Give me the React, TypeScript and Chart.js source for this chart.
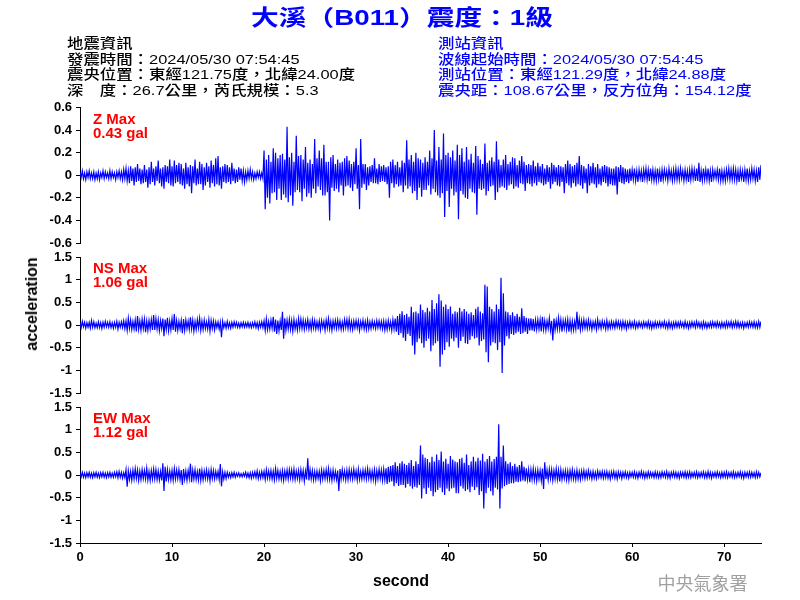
import { useEffect, useRef } from "react";
import { Chart, registerables } from "chart.js";

Chart.register(...registerables);

// ---------- data ----------
const titleText = "大溪（B011）震度：1級";
const quakeInfo = [
  "地震資訊",
  "發震時間：2024/05/30 07:54:45",
  "震央位置：東經121.75度，北緯24.00度",
  "深　度：26.7公里，芮氏規模：5.3",
];
const stationInfo = [
  "測站資訊",
  "波線起始時間：2024/05/30 07:54:45",
  "測站位置：東經121.29度，北緯24.88度",
  "震央距：108.67公里，反方位角：154.12度",
];
const agencyText = "中央氣象署";
const xAxisTitle = "second";
const yAxisTitle = "acceleration";

const SAMPLE_INTERVAL = 0.125; // seconds between samples below
const X_MAX = 74;
const xTicks = [0, 10, 20, 30, 40, 50, 60, 70];
const zTicks = [-0.6, -0.4, -0.2, 0, 0.2, 0.4, 0.6];
const hTicks = [-1.5, -1, -0.5, 0, 0.5, 1, 1.5];

const componentNames = ["Z Max", "NS Max", "EW Max"];
const peakLabels = ["0.43 gal", "1.06 gal", "1.12 gal"];

// acceleration samples in centi-gal (0.01 gal), 8 per second (one row = one second)
const zTrace = [
  3, -2, 4, -3, 2, -4, 3, -2,
  4, -3, 2, -3, 3, -4, 2, -3,
  3, -4, 2, -2, 4, -3, 3, -2,
  2, -3, 4, -3, 3, -2, 2, -4,
  3, -2, 4, -3, 3, -4, 5, -3,
  6, -5, 4, -7, 8, -5, 6, -9,
  7, -6, 10, -5, 6, -8, 5, -7,
  9, -6, 5, -11, 7, -8, 12, -6,
  6, -9, 8, -5, 13, -7, 6, -10,
  7, -12, 9, -6, 8, -7, 14, -9,
  8, -10, 13, -7, 9, -6, 11, -8,
  10, -9, 6, -12, 11, -8, 7, -10,
  9, -16, 8, -7, 14, -9, 6, -8,
  12, -8, 10, -13, 7, -9, 11, -6,
  8, -11, 13, -7, 9, -10, 15, -8,
  17, -9, 7, -12, 8, -6, 10, -7,
  9, -6, 7, -8, 11, -5, 6, -7,
  5, -6, 7, -4, 6, -5, 4, -6,
  3, -4, 4, -3, 5, -3, 3, -4,
  2, -3, 3, -2, 3, -3, 2, -3,
  22, -30, 14, -20, 18, -25, 12, -16,
  24, -15, 20, -22, 15, -12, 18, -22,
  19, -17, 14, -20, 43, -24, 16, -18,
  20, -27, 12, -15, 35, -13, 17, -15,
  18, -23, 14, -12, 25, -19, 11, -16,
  14, -20, 10, -12, 32, -16, 15, -10,
  22, -13, 15, -18, 27, -18, 12, -15,
  12, -40, 16, -11, 18, -14, 10, -12,
  14, -15, 11, -9, 12, -18, 15, -10,
  17, -9, 13, -11, 10, -14, 12, -8,
  24, -12, 9, -30, 32, -11, 10, -8,
  10, -13, 7, -9, 8, -6, 9, -7,
  15, -7, 6, -8, 10, -6, 8, -5,
  9, -6, 7, -8, 8, -20, 12, -7,
  14, -11, 9, -8, 12, -10, 7, -9,
  13, -15, 11, -9, 31, -12, 14, -10,
  18, -16, 12, -14, 20, -22, 15, -11,
  14, -19, 11, -13, 16, -13, 12, -9,
  22, -17, 15, -12, 40, -15, 13, -18,
  25, -20, 14, -16, 37, -37, 18, -14,
  20, -28, 16, -12, 22, -18, 13, -15,
  27, -39, 18, -14, 24, -17, 12, -20,
  25, -21, 14, -12, 19, -15, 11, -16,
  26, -35, 17, -12, 14, -13, 10, -12,
  28, -18, 11, -14, 13, -10, 16, -9,
  12, -22, 30, -15, 14, -11, 9, -10,
  14, -11, 18, -13, 10, -9, 12, -8,
  16, -12, 15, -10, 9, -11, 13, -7,
  17, -8, 12, -14, 9, -7, 10, -8,
  9, -10, 13, -7, 8, -9, 11, -6,
  8, -7, 10, -9, 6, -8, 9, -6,
  7, -12, 11, -8, 9, -6, 7, -9,
  9, -10, 8, -6, 7, -16, 10, -7,
  13, -9, 10, -11, 8, -7, 9, -10,
  11, -8, 17, -9, 9, -12, 8, -7,
  6, -16, 10, -9, 8, -7, 11, -8,
  7, -11, 10, -8, 6, -9, 8, -6,
  9, -7, 8, -10, 7, -8, 6, -9,
  6, -9, 8, -17, 7, -6, 9, -7,
  7, -8, 6, -6, 5, -7, 6, -5,
  5, -4, 6, -5, 4, -6, 5, -3,
  4, -6, 5, -3, 6, -4, 5, -5,
  6, -4, 5, -5, 4, -5, 6, -4,
  4, -6, 5, -4, 5, -3, 4, -5,
  6, -3, 4, -5, 5, -4, 6, -4,
  5, -4, 6, -3, 4, -5, 5, -4,
  4, -6, 5, -4, 6, -3, 5, -5,
  6, -5, 11, -6, 4, -5, 6, -4,
  5, -4, 6, -5, 4, -6, 5, -3,
  4, -3, 5, -4, 6, -5, 4, -5,
  4, -5, 5, -3, 6, -4, 5, -4,
  6, -4, 5, -5, 4, -6, 5, -3,
  4, -6, 5, -4, 6, -5, 4, -4,
  6, -3, 5, -5, 4, -6, 7, -4,
  9,
];

const nsTrace = [
  5, -6, 8, -4, 6, -7, 5, -5,
  6, -7, 10, -5, 7, -6, 4, -6,
  7, -6, 5, -8, 6, -5, 8, -4,
  6, -5, 7, -6, 5, -7, 6, -5,
  8, -9, 6, -5, 7, -6, 9, -8,
  9, -12, 15, -8, 11, -10, 8, -9,
  11, -14, 20, -10, 9, -12, 13, -8,
  13, -16, 9, -12, 10, -9, 12, -11,
  22, -11, 14, -9, 12, -13, 10, -8,
  14, -25, 12, -10, 16, -13, 9, -11,
  14, -11, 24, -15, 10, -12, 8, -9,
  10, -18, 13, -12, 11, -8, 9, -10,
  17, -9, 11, -14, 8, -10, 12, -7,
  15, -12, 9, -10, 11, -8, 7, -9,
  12, -14, 10, -8, 9, -11, 7, -6,
  7, -9, 6, -27, 8, -6, 5, -7,
  8, -6, 5, -7, 6, -5, 7, -4,
  6, -5, 4, -6, 5, -4, 6, -5,
  5, -4, 6, -5, 4, -6, 5, -4,
  7, -6, 5, -8, 6, -5, 7, -6,
  9, -12, 14, -10, 8, -9, 11, -7,
  18, -15, 12, -20, 10, -13, 9, -11,
  29, -30, 15, -12, 11, -9, 13, -10,
  10, -14, 12, -9, 8, -11, 14, -8,
  13, -8, 11, -10, 9, -7, 12, -9,
  8, -10, 12, -7, 10, -9, 7, -8,
  9, -11, 10, -6, 8, -12, 11, -7,
  14, -9, 8, -12, 9, -7, 10, -8,
  11, -7, 9, -10, 7, -9, 12, -6,
  12, -8, 13, -9, 8, -10, 9, -7,
  10, -7, 9, -12, 8, -6, 11, -9,
  8, -10, 11, -9, 7, -8, 9, -6,
  7, -8, 10, -6, 9, -7, 8, -9,
  9, -11, 8, -10, 10, -8, 7, -12,
  12, -9, 14, -15, 20, -22, 25, -18,
  30, -28, 22, -35, 25, -20, 18, -24,
  40, -45, 28, -65, 30, -38, 26, -30,
  45, -40, 33, -50, 28, -35, 38, -30,
  30, -58, 55, -45, 35, -40, 48, -36,
  68, -92, 54, -65, 40, -55, 45, -38,
  35, -48, 41, -30, 25, -36, 30, -28,
  28, -50, 38, -35, 30, -26, 35, -40,
  30, -42, 25, -33, 28, -25, 22, -30,
  36, -28, 40, -45, 30, -35, 26, -32,
  89, -60, 85, -82, 40, -45, 35, -38,
  30, -40, 45, -55, 35, -38, 104, -106,
  70, -45, 30, -25, 28, -30, 22, -20,
  28, -22, 20, -18, 25, -15, 18, -20,
  37, -18, 20, -15, 16, -20, 14, -12,
  15, -12, 13, -14, 11, -10, 12, -9,
  12, -14, 18, -10, 10, -12, 9, -8,
  15, -12, 9, -34, 14, -11, 10, -9,
  16, -9, 12, -15, 10, -8, 11, -10,
  12, -15, 10, -12, 9, -11, 8, -9,
  29, -10, 13, -11, 10, -8, 12, -7,
  9, -8, 11, -7, 8, -10, 7, -6,
  8, -10, 12, -6, 7, -8, 9, -5,
  7, -9, 10, -8, 6, -7, 8, -6,
  6, -7, 9, -5, 8, -6, 7, -8,
  8, -6, 7, -9, 6, -5, 8, -6,
  6, -5, 8, -7, 5, -6, 7, -4,
  5, -6, 7, -4, 6, -5, 8, -6,
  6, -8, 5, -6, 7, -5, 6, -4,
  7, -5, 6, -4, 8, -6, 5, -7,
  8, -6, 5, -7, 6, -5, 7, -5,
  6, -5, 7, -4, 5, -6, 8, -5,
  5, -7, 6, -5, 7, -4, 6, -6,
  8, -4, 6, -6, 5, -7, 7, -5,
  5, -7, 4, -5, 6, -5, 7, -4,
  6, -5, 7, -4, 5, -6, 6, -5,
  5, -6, 7, -5, 6, -4, 8, -6,
  6, -4, 8, -5, 7, -6, 5, -5,
  6, -7, 5, -4, 6, -5, 7, -4,
  6, -5, 7, -6, 5, -6, 8, -5,
  8,
];

const ewTrace = [
  5, -4, 6, -5, 4, -6, 5, -4,
  6, -5, 4, -6, 5, -4, 6, -5,
  4, -6, 5, -4, 6, -5, 4, -6,
  5, -4, 6, -5, 4, -5, 6, -4,
  7, -6, 8, -5, 6, -7, 5, -6,
  12, -26, 9, -10, 8, -12, 11, -9,
  14, -8, 11, -12, 9, -10, 12, -8,
  10, -9, 15, -11, 8, -12, 10, -9,
  13, -9, 12, -10, 9, -11, 8, -12,
  26, -35, 18, -14, 12, -10, 9, -11,
  10, -12, 14, -9, 11, -8, 12, -10,
  11, -22, 13, -10, 9, -12, 10, -8,
  25, -16, 11, -9, 12, -10, 8, -11,
  14, -12, 10, -11, 9, -8, 11, -9,
  9, -13, 12, -8, 10, -9, 8, -7,
  8, -10, 24, -25, 7, -9, 6, -8,
  6, -5, 4, -6, 5, -4, 6, -5,
  4, -3, 5, -4, 3, -4, 4, -3,
  6, -5, 4, -6, 5, -7, 6, -5,
  7, -6, 9, -8, 6, -7, 8, -6,
  8, -10, 12, -7, 9, -8, 10, -9,
  9, -11, 14, -8, 10, -9, 8, -10,
  10, -12, 9, -8, 11, -9, 12, -7,
  11, -9, 13, -10, 9, -8, 10, -11,
  12, -8, 10, -14, 9, -10, 37, -12,
  12, -9, 10, -11, 8, -10, 9, -8,
  8, -13, 11, -9, 10, -8, 12, -9,
  14, -10, 9, -12, 11, -9, 8, -10,
  10, -35, 13, -9, 12, -8, 9, -11,
  11, -10, 12, -8, 10, -9, 13, -7,
  9, -12, 13, -10, 8, -9, 11, -8,
  11, -9, 14, -8, 10, -11, 9, -10,
  12, -14, 10, -9, 13, -8, 11, -12,
  13, -11, 15, -20, 18, -16, 20, -14,
  22, -25, 28, -18, 20, -24, 26, -22,
  30, -22, 25, -28, 22, -20, 27, -25,
  33, -30, 20, -26, 30, -28, 24, -22,
  65, -52, 45, -30, 38, -42, 35, -28,
  28, -35, 40, -47, 30, -38, 45, -33,
  33, -28, 52, -38, 30, -44, 36, -30,
  25, -36, 42, -30, 34, -28, 30, -40,
  28, -40, 35, -25, 38, -30, 27, -35,
  45, -32, 22, -38, 30, -26, 40, -33,
  30, -27, 38, -44, 32, -36, 47, -74,
  30, -40, 35, -28, 42, -36, 30, -45,
  35, -28, 40, -32, 112, -74, 40, -30,
  65, -25, 30, -22, 25, -20, 28, -18,
  20, -18, 25, -15, 18, -16, 22, -14,
  30, -12, 18, -14, 15, -10, 12, -16,
  12, -10, 14, -11, 10, -13, 11, -9,
  10, -13, 14, -31, 28, -9, 11, -11,
  13, -8, 12, -12, 10, -9, 14, -10,
  11, -14, 12, -10, 9, -8, 10, -11,
  9, -12, 10, -8, 12, -9, 8, -10,
  11, -9, 8, -10, 9, -7, 10, -8,
  8, -7, 10, -6, 7, -9, 8, -7,
  6, -8, 9, -5, 7, -6, 8, -7,
  7, -6, 8, -7, 6, -9, 7, -5,
  8, -7, 6, -9, 7, -5, 6, -8,
  6, -5, 7, -6, 5, -7, 6, -4,
  6, -5, 7, -6, 5, -7, 6, -4,
  8, -5, 6, -7, 5, -6, 7, -5,
  6, -4, 5, -6, 7, -5, 6, -6,
  5, -6, 7, -4, 6, -5, 8, -6,
  5, -7, 6, -4, 7, -5, 6, -6,
  5, -7, 6, -4, 6, -5, 7, -6,
  6, -5, 7, -6, 5, -4, 6, -5,
  7, -6, 5, -5, 6, -4, 7, -6,
  5, -6, 8, -5, 6, -7, 5, -4,
  6, -5, 7, -4, 5, -6, 6, -5,
  6, -5, 7, -6, 5, -4, 6, -5,
  7, -6, 5, -5, 6, -4, 7, -6,
  5, -7, 6, -4, 6, -5, 7, -5,
  6, -4, 5, -6, 7, -5, 6, -4,
  5,
];

// ---------- layout ----------
const panels = [
  { trace: zTrace, ticks: zTicks, name: componentNames[0], peak: peakLabels[0], top: 107.5, bottom: 243, showX: false },
  { trace: nsTrace, ticks: hTicks, name: componentNames[1], peak: peakLabels[1], top: 257, bottom: 393, showX: false },
  { trace: ewTrace, ticks: hTicks, name: componentNames[2], peak: peakLabels[2], top: 407, bottom: 543, showX: true },
];

const LATIN = '"Liberation Sans", Arial, Helvetica, sans-serif';
const MIXED = '"Liberation Sans", Arial, "Noto Sans CJK TC", sans-serif';
const CJK = '"Noto Sans CJK TC", "Noto Sans CJK SC", sans-serif';

const panelLabelPlugin = {
  id: "panelLabel",
  afterDraw(chart: any, _args: any, opts: any) {
    const { ctx, chartArea } = chart;
    ctx.save();
    ctx.fillStyle = "#ff0000";
    ctx.font = `bold 15px ${LATIN}`;
    ctx.textBaseline = "alphabetic";
    ctx.textAlign = "left";
    ctx.fillText(opts.name, chartArea.left + 13, chartArea.top + 16);
    ctx.fillText(opts.peak, chartArea.left + 13, chartArea.top + 30);
    ctx.restore();
  },
};

function makeConfig(p: (typeof panels)[number]): any {
  const tickFont = { family: LATIN, size: 13, weight: "bold" as const };
  const axisGrid = { drawOnChartArea: false, drawTicks: true, tickLength: 4, color: "#000", lineWidth: 1 };
  const axisBorder = { display: true, color: "#000", width: 1 };
  return {
    type: "line",
    data: {
      datasets: [
        {
          data: p.trace.map((v, i) => ({ x: i * SAMPLE_INTERVAL, y: v / 100 })),
          borderColor: "#0000ff",
          borderWidth: 1.2,
          pointRadius: 0,
          tension: 0,
          fill: false,
        },
      ],
    },
    options: {
      animation: false,
      responsive: false,
      events: [],
      layout: {
        padding: { left: 0, right: 39, top: p.top, bottom: p.showX ? 0 : 600 - p.bottom },
      },
      plugins: {
        legend: { display: false },
        tooltip: { enabled: false },
        panelLabel: { name: p.name, peak: p.peak },
      },
      scales: {
        x: {
          type: "linear",
          min: 0,
          max: X_MAX,
          display: p.showX,
          afterBuildTicks: (s: any) => {
            s.ticks = xTicks.map((v) => ({ value: v }));
          },
          afterFit: (s: any) => {
            if (p.showX) s.height = 600 - p.bottom;
          },
          grid: axisGrid,
          border: axisBorder,
          ticks: { color: "#000", font: tickFont, padding: 3, maxRotation: 0, autoSkip: false },
        },
        y: {
          type: "linear",
          min: p.ticks[0],
          max: p.ticks[p.ticks.length - 1],
          afterBuildTicks: (s: any) => {
            s.ticks = p.ticks.map((v) => ({ value: v }));
          },
          afterFit: (s: any) => {
            s.width = 80;
          },
          grid: axisGrid,
          border: axisBorder,
          ticks: { color: "#000", font: tickFont, padding: 4, callback: (v: number) => String(v) },
        },
      },
    },
    plugins: [panelLabelPlugin],
  };
}

export default function App() {
  const r0 = useRef<HTMLCanvasElement>(null);
  const r1 = useRef<HTMLCanvasElement>(null);
  const r2 = useRef<HTMLCanvasElement>(null);
  const refs = [r0, r1, r2];

  useEffect(() => {
    const charts = panels.map((p, i) => new Chart(refs[i].current as HTMLCanvasElement, makeConfig(p)));
    return () => charts.forEach((c) => c.destroy());
  }, []);

  const infoStyle = (left: number, top: number, color: string): any => ({
    position: "absolute",
    left,
    top,
    height: 16,
    lineHeight: "16px",
    fontSize: 13.5,
    fontWeight: 500,
    fontFamily: MIXED,
    color,
    whiteSpace: "nowrap",
    transform: "scaleX(1.215)",
    transformOrigin: "0 50%",
  });

  return (
    <div
      style={{
        position: "absolute",
        left: 0,
        top: 0,
        width: 800,
        height: 600,
        background: "#fff",
        overflow: "hidden",
      }}
    >
      {panels.map((p, i) => (
        <canvas
          key={p.name}
          ref={refs[i]}
          width={800}
          height={600}
          style={{ position: "absolute", left: 0, top: 0, width: 800, height: 600 }}
        />
      ))}
      <div
        style={{
          position: "absolute",
          left: 2,
          top: 6.3,
          width: 800,
          height: 24,
          lineHeight: "24px",
          textAlign: "center",
          fontSize: 22,
          fontWeight: "bold",
          fontFamily: MIXED,
          color: "#0000ff",
          whiteSpace: "nowrap",
          transform: "scaleX(1.26)",
          transformOrigin: "50% 50%",
        }}
      >
        {titleText}
      </div>
      {quakeInfo.map((t, i) => (
        <div key={"q" + i} style={infoStyle(66.5, 35.8 + 15.8 * i, "#000")}>
          {t}
        </div>
      ))}
      {stationInfo.map((t, i) => (
        <div key={"s" + i} style={infoStyle(438, 35.8 + 15.8 * i, "#0000ff")}>
          {t}
        </div>
      ))}
      <div
        style={{
          position: "absolute",
          left: 32,
          top: 303.5,
          fontSize: 16,
          fontWeight: "bold",
          fontFamily: LATIN,
          whiteSpace: "nowrap",
          lineHeight: "18px",
          transform: "translate(-50%, -50%) rotate(-90deg)",
          color: "#000",
        }}
      >
        {yAxisTitle}
      </div>
      <div
        style={{
          position: "absolute",
          left: 401,
          top: 580.5,
          fontSize: 16,
          fontWeight: "bold",
          fontFamily: LATIN,
          whiteSpace: "nowrap",
          lineHeight: "18px",
          transform: "translate(-50%, -50%)",
          color: "#000",
        }}
      >
        {xAxisTitle}
      </div>
      <div
        style={{
          position: "absolute",
          left: 702.5,
          top: 581.5,
          fontSize: 18,
          fontFamily: CJK,
          whiteSpace: "nowrap",
          lineHeight: "20px",
          transform: "translate(-50%, -50%)",
          color: "#a0a0a0",
        }}
      >
        {agencyText}
      </div>
    </div>
  );
}
